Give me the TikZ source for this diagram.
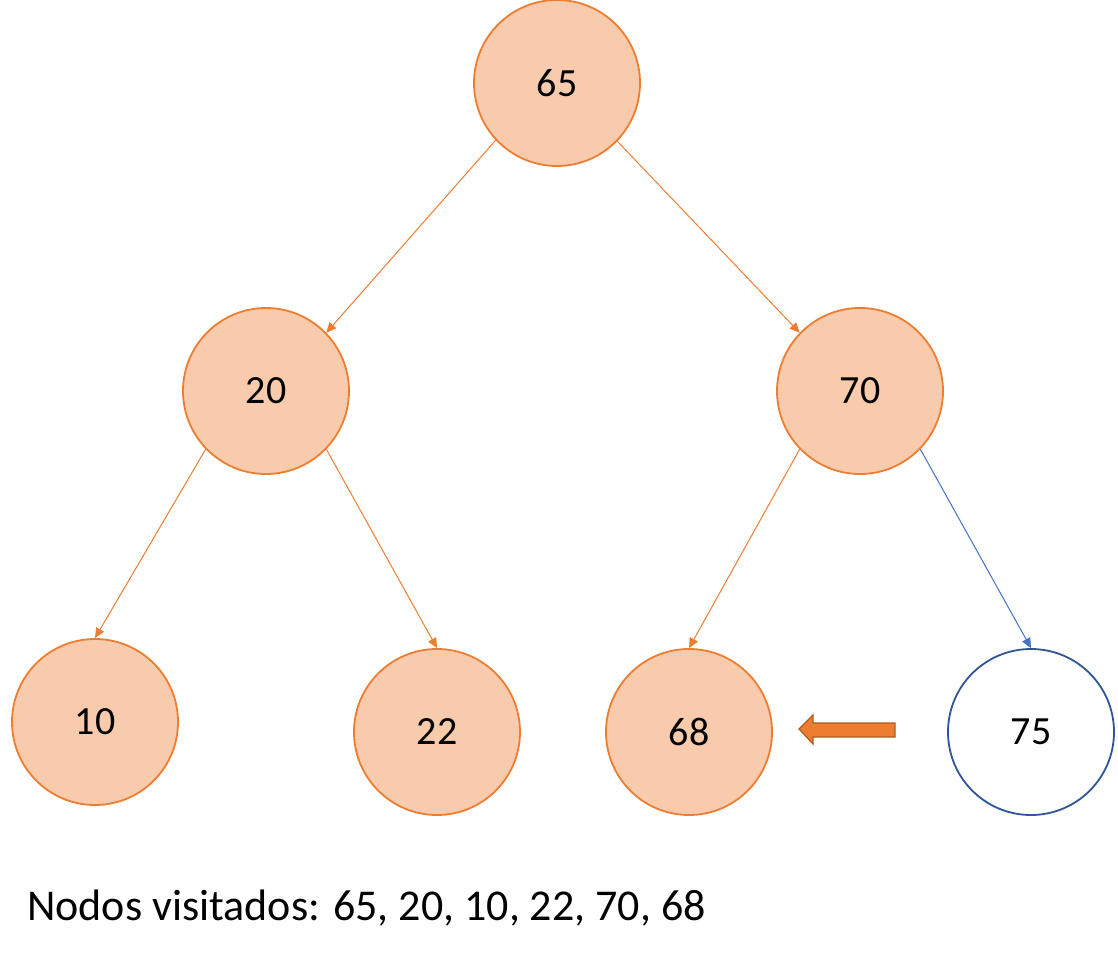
\documentclass[tikz,border=0pt]{standalone}
\usepackage{fontspec}
\setmainfont{Carlito}
\usetikzlibrary{arrows.meta}
\begin{document}
\begin{tikzpicture}[x=1pt,y=-1pt,
  tnode/.style={circle,minimum size=166pt,inner sep=0pt,draw=orOut,line width=1.8pt,fill=orFill,font=\fontsize{40}{46}\selectfont},
  wnode/.style={tnode,draw=blueDark,fill=white},
  edge/.style={draw=orOut,line width=1pt,-{Triangle[length=10pt,width=9pt]}}]
\definecolor{orFill}{HTML}{F8CBAD}
\definecolor{orOut}{HTML}{ED7D31}
\definecolor{blueDark}{HTML}{2F5597}
\definecolor{blueE}{HTML}{4472C4}
\definecolor{arrOut}{HTML}{AE5A21}
\useasboundingbox (0,0) rectangle (1118,960);
\node[tnode] (n65) at (557,83) {65};
\node[tnode] (n20) at (266,391) {20};
\node[tnode] (n70) at (860,391) {70};
\node[tnode] (n10) at (95,722) {10};
\node[tnode] (n22) at (437,732) {22};
\node[tnode] (n68) at (689,732) {68};
\node[wnode] (n75) at (1031,732) {75};
\draw[edge] (n65.223) -- (n20.44);
\draw[edge] (n65.316) -- (n70.136);
\draw[edge] (n20.224) -- (n10.north);
\draw[edge] (n20.316) -- (n22.north);
\draw[edge] (n70.224) -- (n68.north);
\draw[edge,draw=blueE] (n70.316) -- (n75.north);
\draw[fill=orOut,draw=arrOut,line width=1.2pt,line join=miter]
  (799,729) -- (813,715) -- (813,723) -- (895,723) -- (895,737) -- (813,737) -- (813,744) -- cycle;
\node[anchor=west,font=\fontsize{44}{50}\selectfont,inner sep=0pt] (txt) at (27,908) {Nodos visitados: 65, 20, 10, 22, 70, 68};
\end{tikzpicture}
\end{document}
